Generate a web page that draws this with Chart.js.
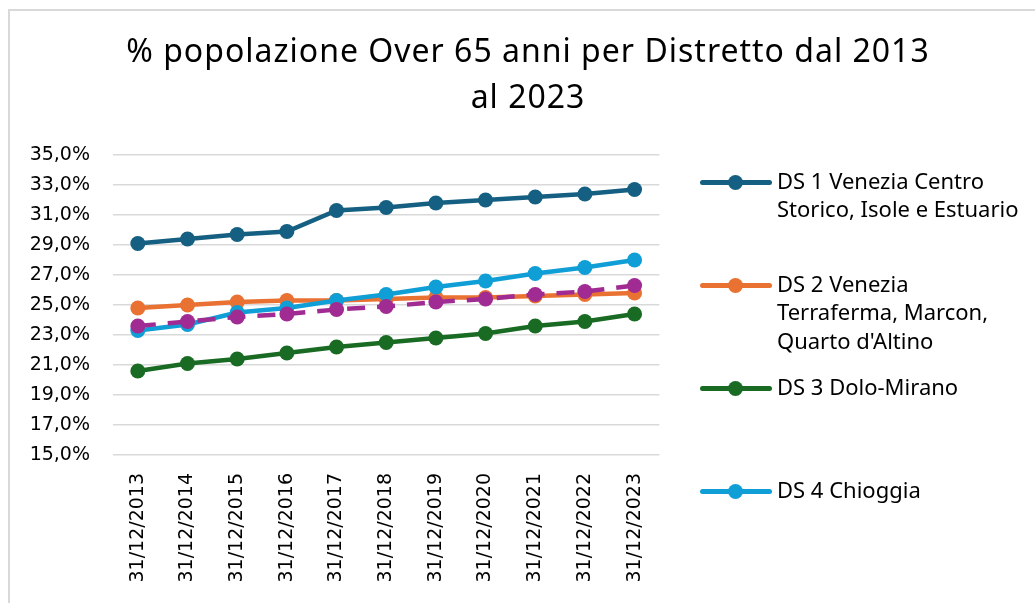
<!DOCTYPE html>
<html>
<head>
<meta charset="utf-8">
<script src="https://cdn.jsdelivr.net/npm/chart.js@4.4.1/dist/chart.umd.min.js"></script>
<style>
  html, body { margin: 0; padding: 0; background: #fff; }
  #wrap { position: relative; width: 1035px; height: 603px; overflow: hidden; }
  #frame { position: absolute; left: 8px; top: 9px; width: 1100px; height: 700px;
           border-left: 2px solid #d9d9d9; border-top: 2px solid #d9d9d9; }
  #chart { position: absolute; left: 0; top: 0; }
  #title { position: absolute; left: 21px; top: 26.6px; width: 1014px; text-align: center;
           font-family: "Noto Sans", sans-serif; font-size: 32px; line-height: 46px;
           letter-spacing: 1px; color: #000; }
  #legend { position: absolute; left: 700px; top: 0; font-family: "Noto Sans", sans-serif;
            font-size: 22px; color: #000; }
  .item { position: absolute; left: 0; width: 335px; }
  .mark { position: absolute; left: 0; width: 72px; height: 5px; border-radius: 3px; }
  .mark span { position: absolute; left: 28px; top: -5px; width: 15px; height: 15px; border-radius: 50%; }
  .txt { position: absolute; left: 77px; top: -14px; line-height: 28.5px; white-space: nowrap; }
</style>
</head>
<body>
<div id="wrap">
  <div id="frame"></div>
  <canvas id="chart" width="1035" height="603"></canvas>
  <div id="title"></div>
  <div id="legend"></div>
</div>
<script>
// categories
const years = ['31/12/2013', '31/12/2014', '31/12/2015', '31/12/2016', '31/12/2017', '31/12/2018',
               '31/12/2019', '31/12/2020', '31/12/2021', '31/12/2022', '31/12/2023'];

// series values (% over 65)
const ds1 = [29.1, 29.4, 29.7, 29.9, 31.3, 31.5, 31.8, 32.0, 32.2, 32.4, 32.7];
const ds2 = [24.8, 25.0, 25.2, 25.3, 25.3, 25.4, 25.5, 25.5, 25.6, 25.7, 25.8];
const ds3 = [20.6, 21.1, 21.4, 21.8, 22.2, 22.5, 22.8, 23.1, 23.6, 23.9, 24.4];
const ds4 = [23.3, 23.7, 24.5, 24.8, 25.3, 25.7, 26.2, 26.6, 27.1, 27.5, 28.0];
const ulss = [23.6, 23.9, 24.2, 24.4, 24.7, 24.9, 25.2, 25.4, 25.7, 25.9, 26.3];

const seriesNames = ['DS 1 Venezia Centro Storico, Isole e Estuario',
                     'DS 2 Venezia Terraferma, Marcon, Quarto d\'Altino',
                     'DS 3 Dolo-Mirano',
                     'DS 4 Chioggia',
                     'ULSS 3 Serenissima'];
const seriesColors = ['#156082', '#E97132', '#196B24', '#0F9ED5', '#A02B93'];

const titleLines = ['% popolazione Over 65 anni per Distretto dal 2013', 'al 2023'];

// legend lines as wrapped in the picture
const legendLines = [
    ['DS 1 Venezia Centro', 'Storico, Isole e Estuario'],
    ['DS 2 Venezia', 'Terraferma, Marcon,', 'Quarto d\'Altino'],
    ['DS 3 Dolo-Mirano'],
    ['DS 4 Chioggia']
];
const legendTops = [182, 285, 388, 491];

const allValues = [ds1, ds2, ds3, ds4, ulss];

const datasets = allValues.map((vals, i) => ({
    label: seriesNames[i],
    data: vals,
    borderColor: seriesColors[i],
    backgroundColor: seriesColors[i],
    borderWidth: 4.5,
    borderDash: i === 4 ? [18, 12] : [],
    pointRadius: 7.5,
    pointHoverRadius: 7.5,
    pointBorderWidth: 0,
    order: 5 - i // excel style: later series on top
}));

const tickFont = { family: 'DejaVu Sans', size: 19 };

const canvas = document.getElementById('chart');
const chart = new Chart(canvas, {
    type: 'line',
    data: { labels: years, datasets: datasets },
    options: {
        responsive: false,
        animation: false,
        layout: { padding: { left: 0, right: 375.6, top: 155, bottom: 0 } },
        plugins: {
            legend: { display: false },
            tooltip: { enabled: false },
            title: { display: false }
        },
        scales: {
            x: {
                offset: true,
                grid: { display: false, drawTicks: false },
                border: { display: false },
                ticks: {
                    minRotation: 90, maxRotation: 90,
                    padding: 18,
                    color: '#000',
                    font: tickFont
                },
                afterFit: (scale) => { scale.height = 148; }
            },
            y: {
                min: 15, max: 35,
                grid: { color: '#d9d9d9', lineWidth: 1.5, drawTicks: false },
                border: { display: false },
                ticks: {
                    stepSize: 2,
                    padding: 23,
                    color: '#000',
                    font: tickFont,
                    callback: (v) => v.toFixed(1).replace('.', ',') + '%'
                },
                afterFit: (scale) => { scale.width = 113; }
            }
        }
    }
});

// title as html so it can be centred on the whole frame
document.getElementById('title').innerHTML = titleLines.join('<br>');

// html legend, only the four districts appear in the picture
const legendEl = document.getElementById('legend');
legendLines.forEach((lines, i) => {
    const item = document.createElement('div');
    item.className = 'item';
    item.style.top = (legendTops[i] - 2.5) + 'px';
    const mark = document.createElement('div');
    mark.className = 'mark';
    mark.style.background = seriesColors[i];
    const dot = document.createElement('span');
    dot.style.background = seriesColors[i];
    mark.appendChild(dot);
    const txt = document.createElement('div');
    txt.className = 'txt';
    txt.innerHTML = lines.join('<br>');
    item.appendChild(mark);
    item.appendChild(txt);
    legendEl.appendChild(item);
});
</script>
</body>
</html>
